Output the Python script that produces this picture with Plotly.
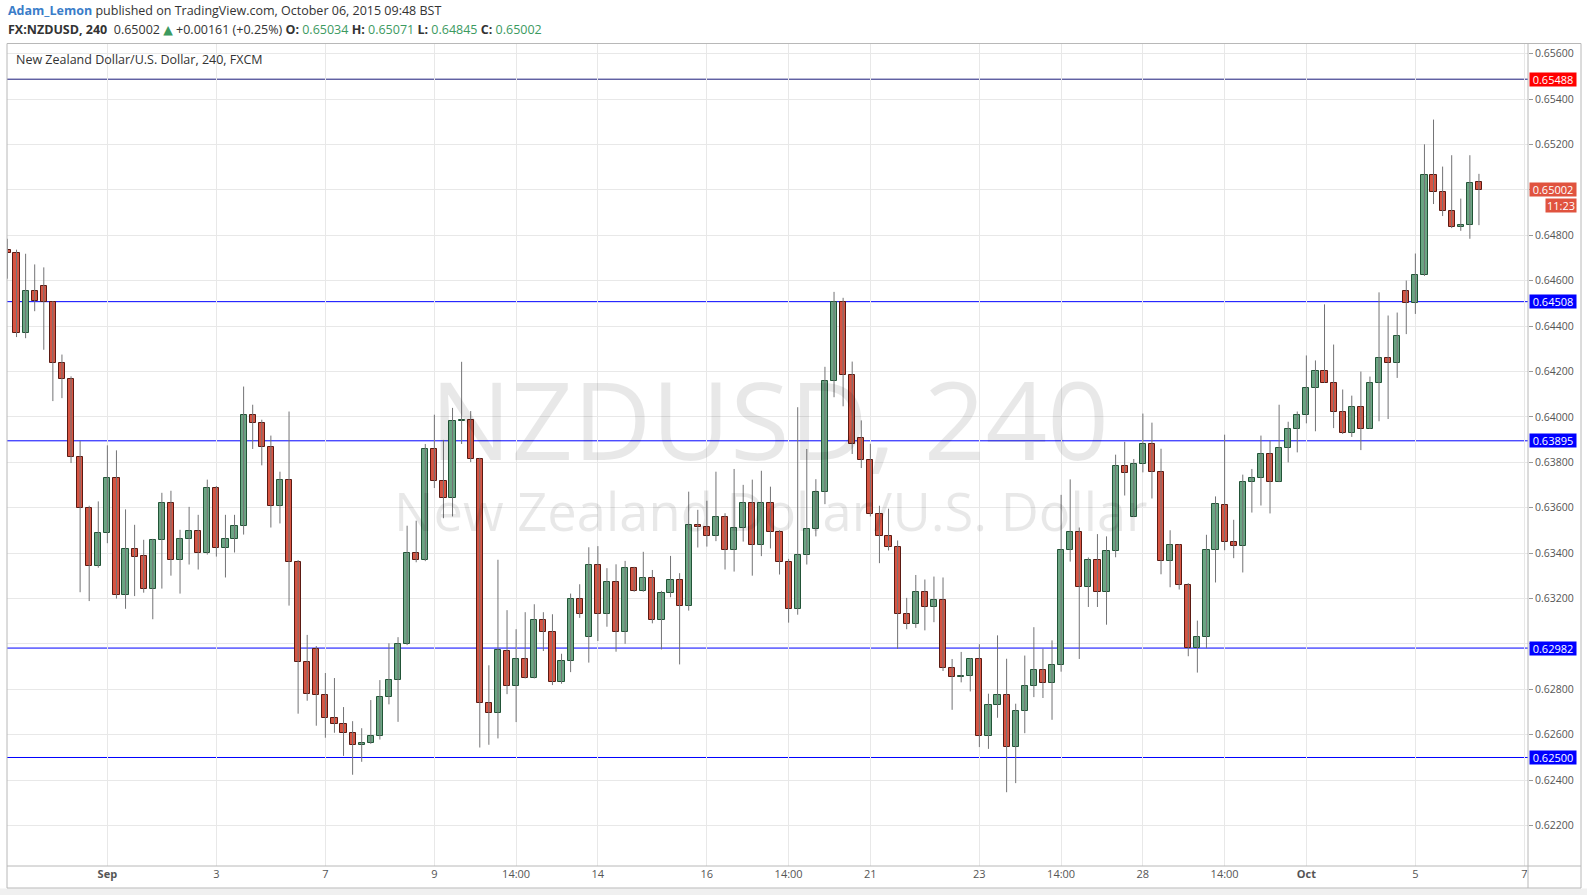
import plotly.graph_objects as go

# ---------------- data (NZDUSD, 4H candles) ----------------
opens = [0.64734,0.64723,0.64371,0.64556,0.64578,0.64507,0.64239,0.64168,0.63825,0.63600,
         0.63345,0.63490,0.63732,0.63217,0.63420,0.63387,0.63241,0.63457,0.63621,0.63369,
         0.63462,0.63497,0.63400,0.63687,0.63422,0.63462,0.63519,0.64009,0.63974,0.63868,
         0.63607,0.63722,0.63360,0.62919,0.62976,0.62774,0.62676,0.62646,0.62610,0.62553,
         0.62562,0.62593,0.62765,0.62840,0.62999,0.63400,0.63369,0.63859,0.63718,0.63643,
         0.63982,0.63987,0.63815,0.62738,0.62694,0.62971,0.62816,0.62935,0.62851,0.63107,
         0.63054,0.62834,0.62926,0.63196,0.63032,0.63346,0.63134,0.63275,0.63051,0.63334,
         0.63232,0.63290,0.63104,0.63224,0.63281,0.63166,0.63524,0.63515,0.63475,0.63559,
         0.63413,0.63510,0.63621,0.63435,0.63621,0.63493,0.63360,0.63153,0.63391,0.63506,
         0.63669,0.64159,0.64507,0.64185,0.63909,0.63812,0.63574,0.63476,0.63428,0.63132,
         0.63088,0.63229,0.63163,0.63194,0.62894,0.62854,0.62859,0.62935,0.62596,0.62732,
         0.62776,0.62547,0.62706,0.62816,0.62887,0.62829,0.62909,0.63416,0.63493,0.63253,
         0.63372,0.63231,0.63409,0.63784,0.63559,0.63793,0.63881,0.63757,0.63365,0.63435,
         0.63259,0.62981,0.63029,0.63413,0.63612,0.63449,0.63431,0.63713,0.63731,0.63837,
         0.63713,0.63863,0.63947,0.64009,0.64128,0.64203,0.64150,0.64022,0.63929,0.64044,
         0.63947,0.64150,0.64260,0.64238,0.64556,0.64503,0.64626,0.65068,0.64993,0.64909,
         0.64838,0.64847,0.65034]
highs = [0.64785,0.64737,0.64719,0.64672,0.64659,0.64510,0.64275,0.64179,0.63894,0.63609,
         0.63628,0.63875,0.63853,0.63593,0.63525,0.63459,0.63463,0.63666,0.63675,0.63503,
         0.63604,0.63569,0.63724,0.63696,0.63569,0.63569,0.64134,0.64054,0.63988,0.63918,
         0.63759,0.64024,0.63370,0.63040,0.62991,0.62872,0.62850,0.62722,0.62660,0.62629,
         0.62753,0.62841,0.63003,0.63030,0.63521,0.63543,0.63881,0.64010,0.63899,0.64040,
         0.64243,0.64026,0.63820,0.62906,0.63371,0.63149,0.63065,0.63140,0.63175,0.63140,
         0.63131,0.62957,0.63222,0.63263,0.63426,0.63431,0.63334,0.63351,0.63366,0.63340,
         0.63406,0.63326,0.63234,0.63388,0.63312,0.63671,0.63591,0.63631,0.63759,0.63576,
         0.63771,0.63701,0.63724,0.63763,0.63693,0.63501,0.63375,0.64043,0.63859,0.63726,
         0.64221,0.64551,0.64525,0.64244,0.63985,0.63882,0.63609,0.63596,0.63456,0.63203,
         0.63304,0.63284,0.63297,0.63293,0.62934,0.62965,0.62938,0.62999,0.62781,0.63038,
         0.62935,0.62737,0.62949,0.63074,0.62979,0.63016,0.63657,0.63725,0.63513,0.63381,
         0.63484,0.63474,0.63834,0.63891,0.63815,0.64015,0.63975,0.63860,0.63501,0.63440,
         0.63268,0.63103,0.63481,0.63650,0.63922,0.63547,0.63746,0.63771,0.63918,0.63896,
         0.64054,0.63979,0.64024,0.64271,0.64249,0.64496,0.64319,0.64121,0.64094,0.64200,
         0.64178,0.64549,0.64447,0.64460,0.64601,0.64720,0.65201,0.65310,0.65103,0.65153,
         0.64962,0.65153,0.65071]
lows = [0.64609,0.64352,0.64347,0.64466,0.64296,0.64070,0.64083,0.63797,0.63228,0.63189,
        0.63336,0.63444,0.63200,0.63155,0.63211,0.63226,0.63109,0.63244,0.63301,0.63222,
        0.63350,0.63328,0.63394,0.63385,0.63293,0.63403,0.63482,0.63859,0.63787,0.63513,
        0.63531,0.63169,0.62693,0.62750,0.62640,0.62587,0.62609,0.62507,0.62424,0.62481,
        0.62560,0.62579,0.62734,0.62657,0.62995,0.63360,0.63365,0.63687,0.63554,0.63562,
        0.63881,0.63801,0.62544,0.62556,0.62584,0.62779,0.62656,0.62848,0.62848,0.62969,
        0.62819,0.62825,0.62876,0.63115,0.62918,0.63013,0.63076,0.62966,0.63001,0.63230,
        0.63230,0.63091,0.62976,0.63206,0.62910,0.63147,0.63425,0.63429,0.63453,0.63328,
        0.63319,0.63451,0.63301,0.63387,0.63421,0.63306,0.63094,0.63129,0.63350,0.63474,
        0.63616,0.64087,0.64047,0.63837,0.63775,0.63562,0.63356,0.63412,0.62978,0.63065,
        0.63071,0.63060,0.63096,0.62881,0.62710,0.62831,0.62791,0.62546,0.62538,0.62675,
        0.62347,0.62387,0.62607,0.62766,0.62762,0.62666,0.62878,0.63363,0.62934,0.63163,
        0.63163,0.63085,0.63382,0.63654,0.63559,0.63756,0.63641,0.63307,0.63250,0.63240,
        0.62946,0.62874,0.62981,0.63271,0.63413,0.63378,0.63315,0.63579,0.63610,0.63575,
        0.63713,0.63800,0.63844,0.63972,0.63937,0.64150,0.63951,0.63925,0.63912,0.63854,
        0.63947,0.63981,0.63991,0.64172,0.64365,0.64454,0.64621,0.64938,0.64885,0.64832,
        0.64820,0.64785,0.64845]
closes = [0.64723,0.64371,0.64556,0.64512,0.64507,0.64239,0.64168,0.63825,0.63600,0.63345,
          0.63490,0.63732,0.63217,0.63420,0.63384,0.63241,0.63457,0.63621,0.63369,0.63462,
          0.63497,0.63400,0.63687,0.63422,0.63462,0.63519,0.64009,0.63974,0.63868,0.63607,
          0.63722,0.63360,0.62919,0.62778,0.62774,0.62676,0.62646,0.62610,0.62553,0.62562,
          0.62593,0.62765,0.62840,0.62999,0.63400,0.63369,0.63859,0.63718,0.63643,0.63982,
          0.63987,0.63815,0.62738,0.62694,0.62972,0.62816,0.62935,0.62851,0.63107,0.63054,
          0.62834,0.62926,0.63196,0.63134,0.63346,0.63134,0.63275,0.63054,0.63334,0.63232,
          0.63290,0.63104,0.63224,0.63281,0.63166,0.63524,0.63515,0.63475,0.63559,0.63413,
          0.63510,0.63621,0.63435,0.63621,0.63493,0.63360,0.63153,0.63391,0.63506,0.63669,
          0.64159,0.64507,0.64185,0.63881,0.63812,0.63574,0.63476,0.63428,0.63132,0.63088,
          0.63229,0.63163,0.63194,0.62894,0.62854,0.62859,0.62934,0.62596,0.62732,0.62776,
          0.62547,0.62706,0.62816,0.62887,0.62829,0.62909,0.63416,0.63493,0.63253,0.63372,
          0.63231,0.63409,0.63784,0.63753,0.63793,0.63881,0.63757,0.63365,0.63435,0.63259,
          0.62981,0.63029,0.63413,0.63616,0.63449,0.63431,0.63713,0.63731,0.63837,0.63713,
          0.63863,0.63947,0.64009,0.64128,0.64203,0.64150,0.64022,0.63929,0.64044,0.63947,
          0.64150,0.64260,0.64238,0.64357,0.64503,0.64626,0.65068,0.64993,0.64909,0.64838,
          0.64847,0.65032,0.65002]

tick_idx = [11, 23, 35, 47, 56, 65, 77, 86, 95, 107, 116, 125, 134, 143, 155, 167]
tick_labels = ["<b>Sep</b>", "3", "7", "9", "14:00", "14", "16", "14:00", "21", "23",
               "14:00", "28", "14:00", "<b>Oct</b>", "5", "7"]

y_ticks = [0.622 + 0.002 * k for k in range(18)]
y_hidden = [0.630, 0.650]   # axis labels covered by the price boxes
level_values = [0.65488, 0.64508, 0.63895, 0.62982, 0.62500]
level_box_colors = ["#ff0000", "#0000ff", "#0000ff", "#0000ff", "#0000ff"]
level_line_colors = ["#1b1b7a", "#0000ff", "#0000ff", "#0000ff", "#0000ff"]
last_close = 0.65002
timer_text = "11:23"

# ---------------- geometry ----------------
W, H = 1587, 895
L, R, T, B = 7, 1528, 44, 866
PW, PH = R - L, B - T
def px(x):
    return (x - L) / PW
def py(y):
    return (B - y) / PH

n = len(opens)
idx = list(range(n))
UP_FILL, UP_LINE = "#6ba583", "#225437"
DN_FILL, DN_LINE = "#d75442", "#5b1a13"
WICK = "#737375"

wx, wy = [], []
for i in idx:
    wx += [i, i, None]
    wy += [lows[i], highs[i], None]

base = [min(o, c) for o, c in zip(opens, closes)]
height = [max(abs(c - o), 0.000025) for o, c in zip(opens, closes)]
fills = [UP_FILL if c >= o else DN_FILL for o, c in zip(opens, closes)]
lines = [UP_LINE if c >= o else DN_LINE for o, c in zip(opens, closes)]

fig = go.Figure()
fig.add_trace(go.Scatter(x=wx, y=wy, mode="lines", line=dict(color=WICK, width=1),
                         hoverinfo="skip", showlegend=False))
fig.add_trace(go.Bar(x=idx, y=height, base=base, width=0.68,
                     marker=dict(color=fills, line=dict(color=lines, width=1)),
                     showlegend=False))

shapes = []
for v, c in zip(level_values, level_line_colors):
    shapes.append(dict(type="line", xref="paper", yref="y", x0=0, x1=1, y0=v, y1=v,
                       line=dict(color=c, width=1), layer="below"))
shapes.append(dict(type="line", xref="paper", yref="y", x0=0, x1=1, y0=last_close, y1=last_close,
                   line=dict(color="#e38c82", width=1, dash="dot"), layer="below"))
# outer frame
shapes.append(dict(type="rect", xref="paper", yref="paper", x0=px(7), x1=px(1581), y0=py(888), y1=py(43.5),
                   line=dict(color="#b8b8b8", width=1), layer="above"))
shapes.append(dict(type="line", xref="paper", yref="paper", x0=px(7), x1=px(1581), y0=0, y1=0,
                   line=dict(color="#b8b8b8", width=1)))
shapes.append(dict(type="line", xref="paper", yref="paper", x0=1, x1=1, y0=py(888), y1=1,
                   line=dict(color="#b8b8b8", width=1)))
# bottom strip
shapes.append(dict(type="rect", xref="paper", yref="paper", x0=px(0), x1=px(1587), y0=py(895), y1=py(888.5),
                   fillcolor="#f0f0f0", line=dict(width=0), layer="below"))

ann = []
FONT = "Open Sans, DejaVu Sans, sans-serif"
def note(text, x, y, size, color, xanchor="left", **kw):
    d = dict(text=text, x=px(x), y=py(y), xref="paper", yref="paper", xanchor=xanchor,
             yanchor="middle", showarrow=False, font=dict(size=size, color=color, family=FONT))
    d.update(kw)
    return d

# watermark
ann.append(note("NZDUSD, 240", 769, 418, 108, "rgba(0,0,0,0.09)", xanchor="center"))
ann.append(note("New Zealand Dollar/U.S. Dollar", 771, 510, 52.5, "rgba(0,0,0,0.09)", xanchor="center"))
# pane legend
ann.append(note("New Zealand Dollar/U.S. Dollar, 240, FXCM", 14, 60, 12.5, "#333"))
# header
ann.append(note("<b><span style='color:#3a7dc9'>Adam_Lemon</span></b> published on TradingView.com, October 06, 2015 09:48 BST",
                6, 11, 12.5, "#333"))
G = "#3c9a5f"
hdr = ("<b>FX:NZDUSD, 240</b>  0.65002 <span style='color:%s'>▲</span> +0.00161 (+0.25%%) "
       "<b>O:</b> <span style='color:%s'>0.65034</span> <b>H:</b> <span style='color:%s'>0.65071</span> "
       "<b>L:</b> <span style='color:%s'>0.64845</span> <b>C:</b> <span style='color:%s'>0.65002</span>") % (G, G, G, G, G)
ann.append(note(hdr, 6, 29, 12.5, "#333"))
# price labels on axis
for v, c in zip(level_values, level_box_colors):
    ann.append(dict(text="%.5f" % v, x=1, xshift=1, y=v, xref="paper", yref="y", xanchor="left",
                    yanchor="middle", showarrow=False, bgcolor=c, width=46, height=13, borderpad=0,
                    font=dict(size=11, color="white", family=FONT)))
ann.append(dict(text="%.5f" % last_close, x=1, xshift=1, y=last_close, xref="paper", yref="y", xanchor="left",
                yanchor="middle", showarrow=False, bgcolor="#e0533f", width=46, height=13, borderpad=0,
                font=dict(size=11, color="white", family=FONT)))
ann.append(dict(text=timer_text, x=1, xshift=17, y=last_close, yshift=-16, xref="paper", yref="y", xanchor="left",
                yanchor="middle", showarrow=False, bgcolor="#e0533f", width=30, height=13, borderpad=0,
                font=dict(size=11, color="white", family=FONT)))

y_text = ["" if any(abs(v - h) < 1e-9 for h in y_hidden) else "%.5f" % v for v in y_ticks]

fig.update_layout(
    width=W, height=H,
    margin=dict(l=L, r=W - R, t=T, b=H - B),
    paper_bgcolor="white", plot_bgcolor="white",
    bargap=0, showlegend=False,
    shapes=shapes, annotations=ann,
    font=dict(family=FONT, size=11, color="#555"),
    xaxis=dict(range=[-0.05, 167.4], tickmode="array", tickvals=tick_idx, ticktext=tick_labels,
               showgrid=True, gridcolor="#e8e8e8", gridwidth=1, zeroline=False,
               showline=False, ticks="", tickfont=dict(size=11, color="#555")),
    yaxis=dict(range=[0.62022, 0.65643], side="right", tickmode="array", tickvals=y_ticks,
               ticktext=y_text, showgrid=True, gridcolor="#e8e8e8",
               zeroline=False, showline=False, ticks="outside", ticklen=4, tickcolor="#999",
               tickfont=dict(size=10.5, color="#555")),
)

fig.write_html("out.html", config={"displayModeBar": False},
               post_script="document.body.style.margin='0';document.body.style.overflow='hidden';")
